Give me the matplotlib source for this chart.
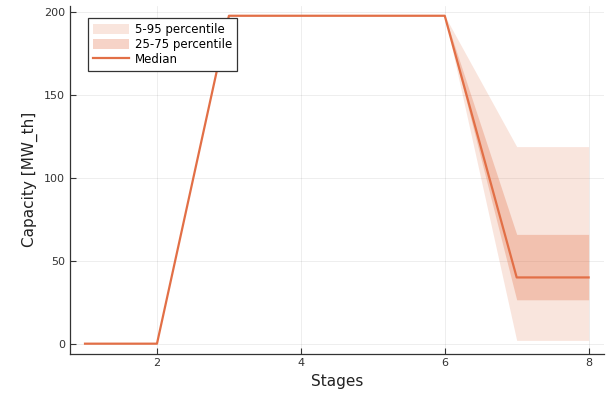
import matplotlib.pyplot as plt
import numpy as np

# data
stages = [1, 2, 3, 4, 5, 6, 7, 8]
p05 = [0, 0, 198, 198, 198, 198, 2, 2]
p95 = [0, 0, 198, 198, 198, 198, 119, 119]
p25 = [0, 0, 198, 198, 198, 198, 26.5, 26.5]
p75 = [0, 0, 198, 198, 198, 198, 66, 66]
median = [0, 0, 198, 198, 198, 198, 40, 40]

color = "#E26F46"

fig, ax = plt.subplots(figsize=(6.08, 3.95), dpi=100)

ax.fill_between(stages, p05, p95, color=color, alpha=0.18, linewidth=0, label="5-95 percentile")
ax.fill_between(stages, p25, p75, color=color, alpha=0.3, linewidth=0, label="25-75 percentile")
ax.plot(stages, median, color=color, linewidth=1.6, label="Median")

ax.set_xlim(0.79, 8.21)
ax.set_ylim(-5.94, 203.94)
ax.set_xticks([2, 4, 6, 8])
ax.set_yticks([0, 50, 100, 150, 200])
ax.grid(True, color="#000000", alpha=0.08, linewidth=0.6)
ax.set_axisbelow(True)

for side in ["top", "right"]:
    ax.spines[side].set_visible(False)
for side in ["left", "bottom"]:
    ax.spines[side].set_color("#333333")
    ax.spines[side].set_linewidth(0.9)

ax.tick_params(direction="in", length=4, width=0.8, colors="#333333", labelsize=8)
ax.set_xlabel("Stages", fontsize=11, color="#222222")
ax.set_ylabel("Capacity [MW_th]", fontsize=11, color="#222222")

leg = ax.legend(loc="upper left", bbox_to_anchor=(0.034, 0.966), fontsize=8.5,
                fancybox=False, framealpha=1, edgecolor="#333333",
                borderpad=0.45, labelspacing=0.15, handlelength=3.0, handleheight=0.9,
                handletextpad=0.5, borderaxespad=0.0)
leg.get_frame().set_linewidth(0.9)

fig.subplots_adjust(left=0.115, right=0.993, top=0.985, bottom=0.105)
fig.savefig("out.png", dpi=100)
